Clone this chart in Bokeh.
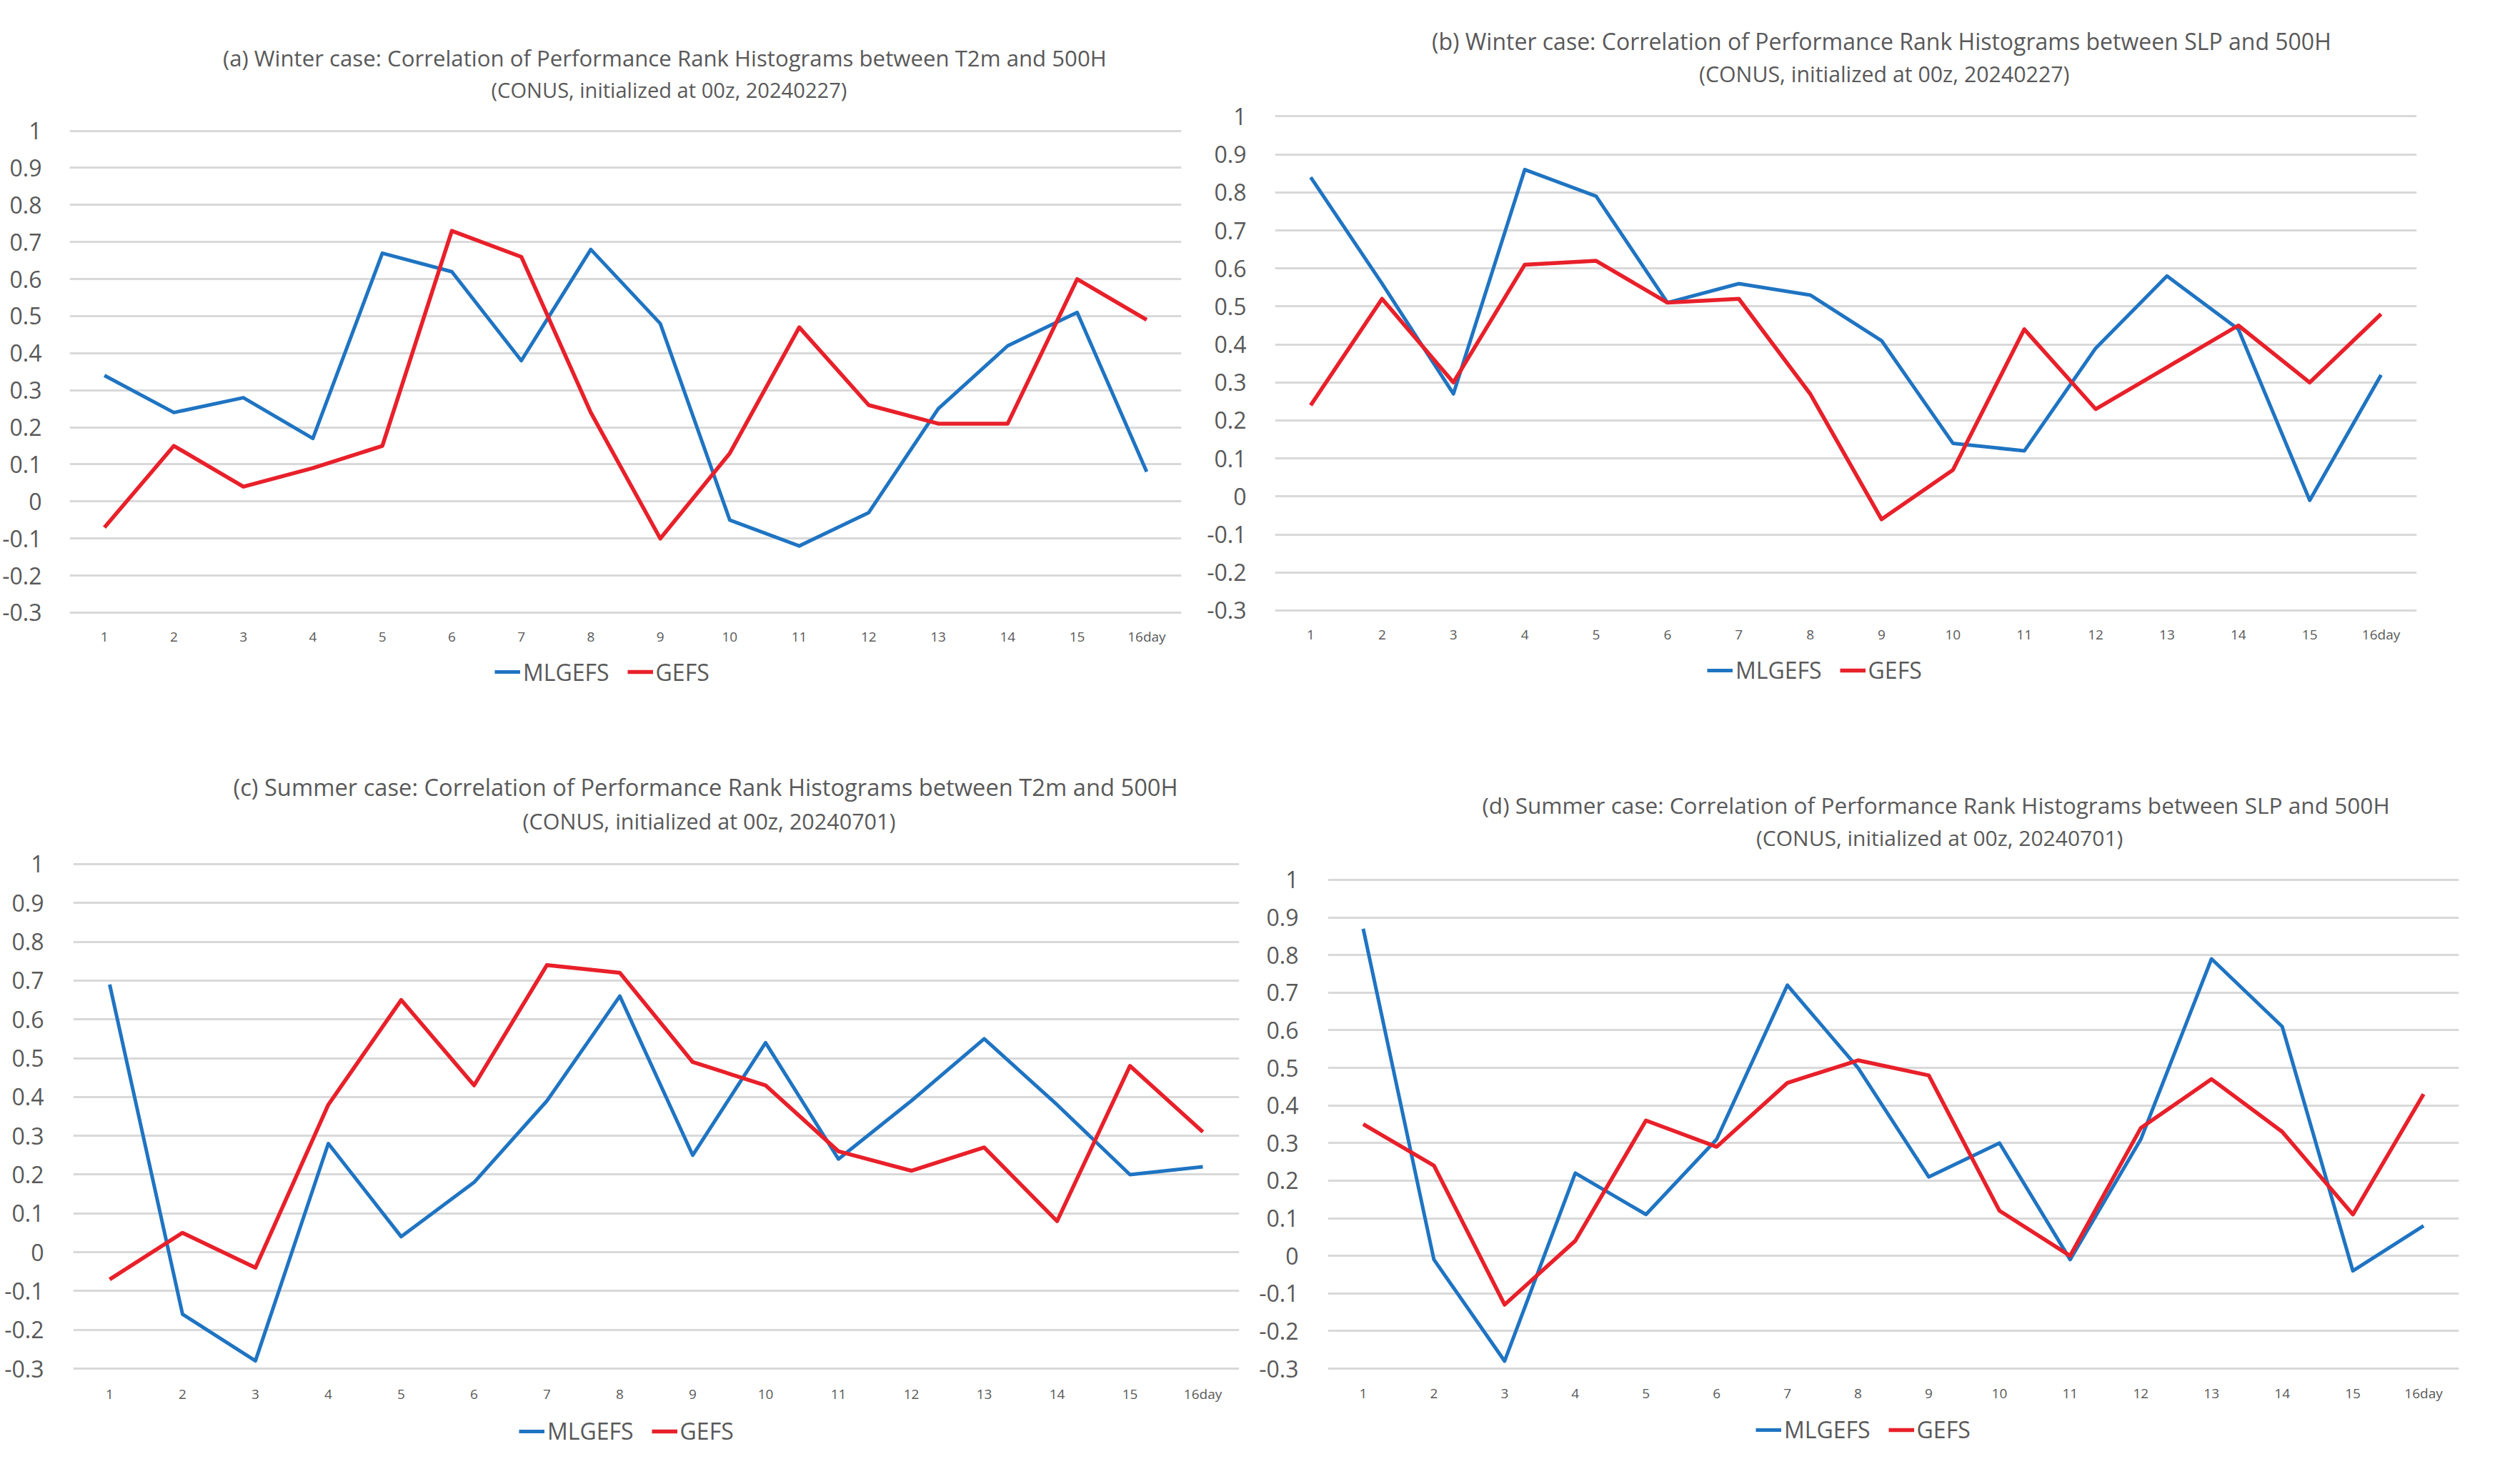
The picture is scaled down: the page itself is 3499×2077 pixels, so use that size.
from bokeh.plotting import figure
from bokeh.models import Range1d, FixedTicker, Title, Legend, LegendItem, CustomJSTickFormatter
from bokeh.layouts import column, row
from bokeh.embed import file_html
from bokeh.resources import INLINE

# ---------------- data ----------------
days = list(range(1, 17))
day_labels = ["1", "2", "3", "4", "5", "6", "7", "8", "9", "10", "11", "12", "13", "14", "15", "16day"]
y_ticks = [-0.3, -0.2, -0.1, 0.0, 0.1, 0.2, 0.3, 0.4, 0.5, 0.6, 0.7, 0.8, 0.9, 1.0]
y_tick_labels = ["-0.3", "-0.2", "-0.1", "0", "0.1", "0.2", "0.3", "0.4", "0.5", "0.6", "0.7", "0.8", "0.9", "1"]
series_names = ["MLGEFS", "GEFS"]

title_a = ["(a) Winter case: Correlation of Performance Rank Histograms between T2m and 500H",
           "(CONUS, initialized at 00z, 20240227)"]
title_b = ["(b) Winter case: Correlation of Performance Rank Histograms between SLP and 500H",
           "(CONUS, initialized at 00z, 20240227)"]
title_c = ["(c) Summer case: Correlation of Performance Rank Histograms between T2m and 500H",
           "(CONUS, initialized at 00z, 20240701)"]
title_d = ["(d) Summer case: Correlation of Performance Rank Histograms between SLP and 500H",
           "(CONUS, initialized at 00z, 20240701)"]

mlgefs_a = [0.34, 0.24, 0.28, 0.17, 0.67, 0.62, 0.38, 0.68, 0.48, -0.05, -0.12, -0.03, 0.25, 0.42, 0.51, 0.08]
gefs_a = [-0.07, 0.15, 0.04, 0.09, 0.15, 0.73, 0.66, 0.24, -0.10, 0.13, 0.47, 0.26, 0.21, 0.21, 0.60, 0.49]

mlgefs_b = [0.84, 0.56, 0.27, 0.86, 0.79, 0.51, 0.56, 0.53, 0.41, 0.14, 0.12, 0.39, 0.58, 0.44, -0.01, 0.32]
gefs_b = [0.24, 0.52, 0.30, 0.61, 0.62, 0.51, 0.52, 0.27, -0.06, 0.07, 0.44, 0.23, 0.34, 0.45, 0.30, 0.48]

mlgefs_c = [0.69, -0.16, -0.28, 0.28, 0.04, 0.18, 0.39, 0.66, 0.25, 0.54, 0.24, 0.39, 0.55, 0.38, 0.20, 0.22]
gefs_c = [-0.07, 0.05, -0.04, 0.38, 0.65, 0.43, 0.74, 0.72, 0.49, 0.43, 0.26, 0.21, 0.27, 0.08, 0.48, 0.31]

mlgefs_d = [0.87, -0.01, -0.28, 0.22, 0.11, 0.31, 0.72, 0.50, 0.21, 0.30, -0.01, 0.31, 0.79, 0.61, -0.04, 0.08]
gefs_d = [0.35, 0.24, -0.13, 0.04, 0.36, 0.29, 0.46, 0.52, 0.48, 0.12, 0.00, 0.34, 0.47, 0.33, 0.11, 0.43]

# ---------------- style / layout ----------------
BLUE = "#1f74c2"
RED = "#e8202a"
GRID = "#d9d9d9"
TXT = "#595959"
FONT = "Open Sans"
PAD = 3          # room below the -0.3 grid line
HT_PER_PX = 1.339  # rendered line height per px of title font size
HSP = 1.4        # rendered height of the 1px spacer
LEG_H = 44       # rendered height of the legend row
BLUE_W = 5
RED_W = 5.5


def make_panel(titles, tw, tsz, mlg, gef, fw, lr, fig_top, fig_h, frame_top, g_top, g_bot,
               title_cx, title_cy2, ystand, xstand):
    left, right = lr
    frame_bot = g_bot + PAD
    fh = int(round(frame_bot - frame_top))
    k = 1.3 / (g_bot - g_top)
    y0 = -0.3 - (frame_bot - g_bot) * k
    y1 = 1.0 + (g_top - frame_top) * k
    top = int(round(frame_top - fig_top))
    bottom = fig_h - top - fh

    p = figure(frame_width=fw, frame_height=fh, output_backend="svg", toolbar_location=None,
               x_range=Range1d(0.5, 16.5), y_range=Range1d(y0, y1),
               min_border_left=left, min_border_right=right,
               min_border_top=top, min_border_bottom=bottom,
               background_fill_color="white", border_fill_color="white")
    p.outline_line_color = None
    p.xgrid.grid_line_color = None
    p.ygrid.grid_line_color = GRID
    p.ygrid.grid_line_width = 3

    p.yaxis.ticker = FixedTicker(ticks=y_ticks)
    p.yaxis.formatter = CustomJSTickFormatter(args=dict(labels=y_tick_labels),
                                              code="return labels[Math.round((tick + 0.3) * 10)];")
    p.xaxis.ticker = FixedTicker(ticks=days)
    p.xaxis.formatter = CustomJSTickFormatter(args=dict(labels=day_labels),
                                              code="return labels[Math.round(tick) - 1];")
    for ax in (p.xaxis, p.yaxis):
        ax.axis_line_color = None
        ax.major_tick_line_color = None
        ax.minor_tick_line_color = None
        ax.major_label_text_color = TXT
        ax.major_label_text_font = FONT
    p.yaxis.major_label_text_font_size = "32px"
    p.yaxis.major_label_standoff = ystand
    p.xaxis.major_label_text_font_size = "19px"
    p.xaxis.major_label_standoff = xstand

    p.line(days, mlg, line_color=BLUE, line_width=BLUE_W, line_join="round")
    p.line(days, gef, line_color=RED, line_width=RED_W, line_join="round")

    # titles: spacer, then second line, then first line (stacked upward from the frame)
    ht2 = HT_PER_PX * tsz[1]
    c2_above = frame_top - title_cy2
    s_sp = max(0.0, c2_above - ht2 / 2 - 2 - HSP)
    p.add_layout(Title(text=" ", text_font_size="1px", standoff=s_sp), "above")
    stand = (4, 0)
    for i in (1, 0):
        p.add_layout(Title(text=titles[i], align="left", offset=title_cx - tw[i] / 2,
                           standoff=stand[i], text_font=FONT, text_font_size=f"{tsz[i]}px",
                           text_font_style="normal", text_color=TXT), "above")
    return p, mlg, gef


def make_legend(panel, width, height, leg_x, leg_cy_from_bottom):
    _, mlg, gef = panel
    # legend strip under a chart: its own (off-frame) copies of the two series supply the keys
    q = figure(width=width, height=height, output_backend="svg", toolbar_location=None,
               x_range=Range1d(-3, -2), y_range=Range1d(-3, -2),
               x_axis_location=None, y_axis_location=None, min_border=0,
               background_fill_color="white", border_fill_color="white")
    q.outline_line_color = None
    q.xgrid.grid_line_color = None
    q.ygrid.grid_line_color = None
    k1 = q.line(days, mlg, line_color=BLUE, line_width=BLUE_W)
    k2 = q.line(days, gef, line_color=RED, line_width=RED_W)
    leg = Legend(items=[LegendItem(label=series_names[0], renderers=[k1]),
                        LegendItem(label=series_names[1], renderers=[k2])],
                 orientation="horizontal", location=(leg_x, leg_cy_from_bottom - LEG_H / 2),
                 label_text_font=FONT, label_text_font_size="32px", label_text_color=TXT,
                 glyph_width=36, glyph_height=36, label_height=36, label_standoff=4, spacing=25,
                 padding=0, margin=0, border_line_color=None, background_fill_alpha=0)
    q.add_layout(leg, "center")
    return q


# page rows: charts 8..912 and 1000..1970, legend strips 912..1000 and 1970..2069
A = make_panel(title_a, (1253, 502), (31.2, 29.1), mlgefs_a, gefs_a, 1556, (97, 29), 8, 904, 167,
               190.6, 864.7, 841, 133, 33, 11)
B = make_panel(title_b, (1271, 523), (32, 30.3), mlgefs_b, gefs_b, 1598, (102, 101), 8, 904, 167,
               170.4, 861.7, 855, 110, 34, 11)
C = make_panel(title_c, (1336, 526), (32.7, 30.5), mlgefs_c, gefs_c, 1632, (102, 23), 1000, 970, 1212,
               1215, 1921.5, 892, 1154, 35, 13)
D = make_panel(title_d, (1284, 517), (31.6, 30), mlgefs_d, gefs_d, 1583, (101, 42), 1000, 970, 1212,
               1237, 1921.5, 858, 1178, 35, 12)

la = make_legend(A, 1682, 88, 692, 1000 - 945.5)
lb = make_legend(B, 1801, 88, 707, 1000 - 943)
lc = make_legend(C, 1757, 99, 726, 2069 - 2006)
ld = make_legend(D, 1726, 99, 700, 2069 - 2004)

layout = column(row(A[0], B[0]), row(la, lb), row(C[0], D[0]), row(lc, ld))
open("out.html", "w").write(file_html(layout, INLINE))
